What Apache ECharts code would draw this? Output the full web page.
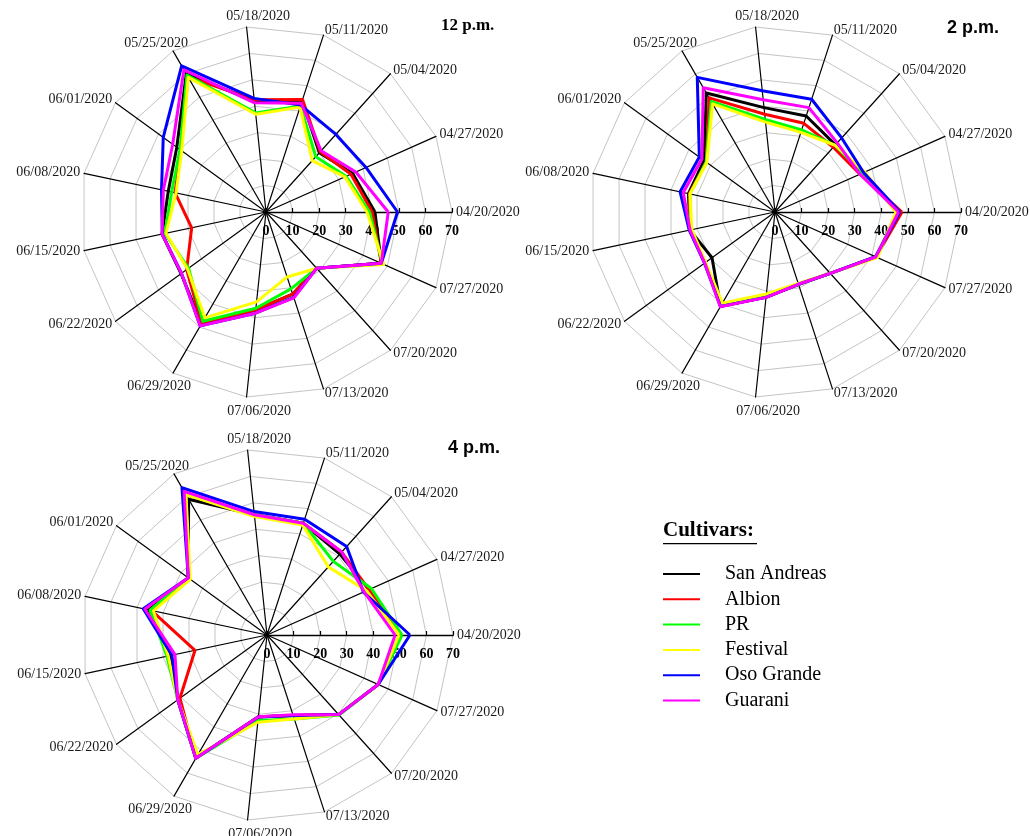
<!DOCTYPE html>
<html>
<head>
<meta charset="utf-8">
<script src="https://cdn.jsdelivr.net/npm/echarts@6.0.0/dist/echarts.min.js"></script>
<style>
  html, body { margin: 0; padding: 0; background: #fff; }
  #chart { width: 1030px; height: 836px; }
</style>
</head>
<body>
<div id="chart"></div>
<script>
const dates = ['04/20/2020', '04/27/2020', '05/04/2020', '05/11/2020', '05/18/2020',
  '05/25/2020', '06/01/2020', '06/08/2020', '06/15/2020', '06/22/2020',
  '06/29/2020', '07/06/2020', '07/13/2020', '07/20/2020', '07/27/2020']
const cultivars = ['San Andreas', 'Albion', 'PR', 'Festival', 'Oso Grande', 'Guarani']
const radialTicks = [0, 10, 20, 30, 40, 50, 60, 70]
const panelTitles = ['12 p.m.', '2 p.m.', '4 p.m.']

// one row per cultivar, same order as cultivars
const values12pm = [
  [41, 35.7, 30, 44, 42, 60, 41.5, 37.6, 40, 39.5, 48.5, 37, 32.5, 28.5, 47.5],
  [40, 35, 30.5, 44.5, 42.5, 58.7, 39.6, 35, 28.6, 36.9, 48.5, 37, 32.5, 28.5, 47.5],
  [39, 33, 28, 42, 37.5, 59.5, 40, 36.3, 38.9, 36, 47.5, 36.4, 30.4, 28.5, 48],
  [38, 32.5, 26, 41.5, 37, 58.5, 39.2, 34.6, 38.5, 36.5, 46, 34, 25.7, 28.5, 48.5],
  [49.5, 41.2, 39.3, 42.3, 43, 63.5, 47.8, 40.2, 39.9, 39.3, 49.5, 38.3, 33.8, 28.5, 47.5],
  [46, 37, 31, 43, 41.3, 61.8, 43.4, 39.5, 40, 39.3, 49.5, 38.3, 34, 28.5, 47.5]
]
const values2pm = [
  [47, 35.5, 34, 38, 39.5, 51.7, 33, 33.3, 32.7, 29.3, 41, 32.2, 28.6, 31.1, 41.6],
  [47.8, 35, 32.8, 35.1, 37, 49.6, 32, 33, 32.7, 32.5, 41, 32.2, 28.6, 31.1, 41.6],
  [46, 36, 33.8, 32.5, 35, 48, 32, 32.7, 32.5, 32.5, 40.5, 32, 28.6, 31.1, 41.6],
  [45.5, 37, 33.8, 31.5, 34, 47, 31.7, 32.7, 32, 32.3, 39.6, 31, 28.3, 31, 42.2],
  [47, 36.5, 37.5, 44.6, 45.9, 58.5, 35.2, 36.5, 33, 32.8, 41, 32.3, 28.6, 31.1, 41.4],
  [46.5, 35, 35, 41.3, 42.5, 54, 34, 35.3, 32.7, 32.7, 41.2, 32.3, 28.6, 31.1, 41.5]
]
const values4pm = [
  [50, 42, 41, 44.2, 45.5, 59, 36.6, 45.5, 37.3, 41.5, 53.6, 30.9, 31.9, 40.3, 45.8],
  [50.5, 42, 42, 44.2, 45.5, 61, 36.6, 44.5, 27.7, 40.5, 53.6, 31, 31.9, 40.3, 45.8],
  [50.8, 43, 37.3, 44.2, 45.5, 61, 36.6, 45, 38.5, 41.5, 53.6, 32.4, 33.2, 40.5, 45.8],
  [49.7, 41, 34.5, 43.5, 44.8, 61, 35.7, 43.7, 38, 41.5, 52, 33, 33.2, 40.3, 45.8],
  [53.8, 39.7, 44.8, 45.8, 46.7, 64, 36.6, 47.6, 36.6, 41.5, 53.6, 31, 31.9, 40.3, 45.8],
  [48.2, 40, 42, 44.2, 45.5, 62.4, 36.6, 47, 35.4, 41.5, 53.6, 30.9, 31.6, 40.3, 45.8]
]

const lineColors = ['#000000', '#ff0000', '#00ff00', '#ffff00', '#0000ff', '#ff00ff']
const serif = '"Liberation Serif", "Times New Roman", serif'
const sans = '"Liberation Sans", Arial, sans-serif'

// nudges for the date labels so they sit like the original ones
// (lineHeight 1 turns a top/bottom anchored label into a centred one)
const mid = { lineHeight: 1 }
const dateLabelStyle = [
  {}, mid, mid, mid,
  { padding: [0, 0, 0, 24] },
  { padding: [0, -17, -3, 0] },
  mid, {}, {}, mid,
  { padding: [3, -20, 0, 0] },
  { padding: [3, 0, 0, 26] },
  mid, mid, mid
]

const panels = [
  { center: [266, 212], values: values12pm },
  { center: [775, 212], values: values2pm },
  { center: [267, 635], values: values4pm }
]
const R = 186
const maxV = radialTicks[radialTicks.length - 1]

const chart = echarts.init(document.getElementById('chart'), null, { renderer: 'canvas' })

chart.setOption({
  animation: false,
  backgroundColor: '#fff',
  title: [
    { text: panelTitles[0], left: 436, top: 12, textStyle: { fontFamily: serif, fontWeight: 'bold', fontSize: 17, color: '#000' } },
    { text: panelTitles[1], left: 942, top: 14, textStyle: { fontFamily: sans, fontWeight: 'bold', fontSize: 18, color: '#000' } },
    { text: panelTitles[2], left: 443, top: 434, textStyle: { fontFamily: sans, fontWeight: 'bold', fontSize: 18, color: '#000' } }
  ],
  legend: {
    orient: 'vertical',
    left: 663,
    top: 564,
    padding: 0,
    itemWidth: 37,
    itemHeight: 2,
    itemGap: 5.3,
    icon: 'rect',
    data: cultivars,
    textStyle: { fontFamily: serif, fontSize: 20, color: '#000', padding: [0, 0, 0, 20] }
  },
  graphic: [
    { type: 'text', left: 663, top: 520, style: { text: 'Cultivars:', font: 'bold 21px ' + serif, fill: '#000' } },
    { type: 'rect', shape: { x: 663, y: 543, width: 94, height: 1.3 }, style: { fill: '#000' } }
  ],
  radar: panels.map(p => ({
    center: p.center,
    radius: R,
    startAngle: 0,
    shape: 'polygon',
    splitNumber: radialTicks.length - 1,
    indicator: dates.map(d => ({ name: d, min: 0, max: maxV })),
    axisName: { show: false },
    axisLine: { lineStyle: { color: '#000', width: 1.2 } },
    splitLine: { lineStyle: { color: '#c4c4c4', width: 1 } },
    splitArea: { show: false }
  })),
  polar: panels.map(p => ({ center: p.center, radius: R })),
  angleAxis: panels.map((p, k) => ({
    polarIndex: k,
    type: 'category',
    data: dates.map((d, i) => ({ value: d, textStyle: dateLabelStyle[i] })),
    startAngle: 0,
    clockwise: false,
    boundaryGap: false,
    axisLine: { show: false },
    axisTick: { show: false },
    splitLine: { show: false },
    axisLabel: { interval: 0, margin: 4, fontFamily: serif, fontSize: 14, color: '#1a1a1a' }
  })),
  radiusAxis: panels.map((p, k) => ({
    polarIndex: k,
    type: 'value',
    min: 0,
    max: maxV,
    interval: 10,
    axisLine: { show: true, lineStyle: { color: '#000', width: 1.3 } },
    axisTick: { show: true, length: 4, lineStyle: { color: '#000', width: 1.2 } },
    splitLine: { show: false },
    axisLabel: {
      margin: -26,
      fontFamily: serif,
      fontWeight: 'bold',
      fontSize: 14,
      color: '#000',
      formatter: v => radialTicks.includes(v) ? String(v) : ''
    }
  })),
  series: panels.map((p, k) => ({
    type: 'radar',
    radarIndex: k,
    symbol: 'none',
    silent: true,
    z: 5,
    data: cultivars.map((name, i) => ({
      name: name,
      value: p.values[i],
      itemStyle: { color: lineColors[i] },
      lineStyle: { color: lineColors[i], width: 3 }
    }))
  }))
})
</script>
</body>
</html>
